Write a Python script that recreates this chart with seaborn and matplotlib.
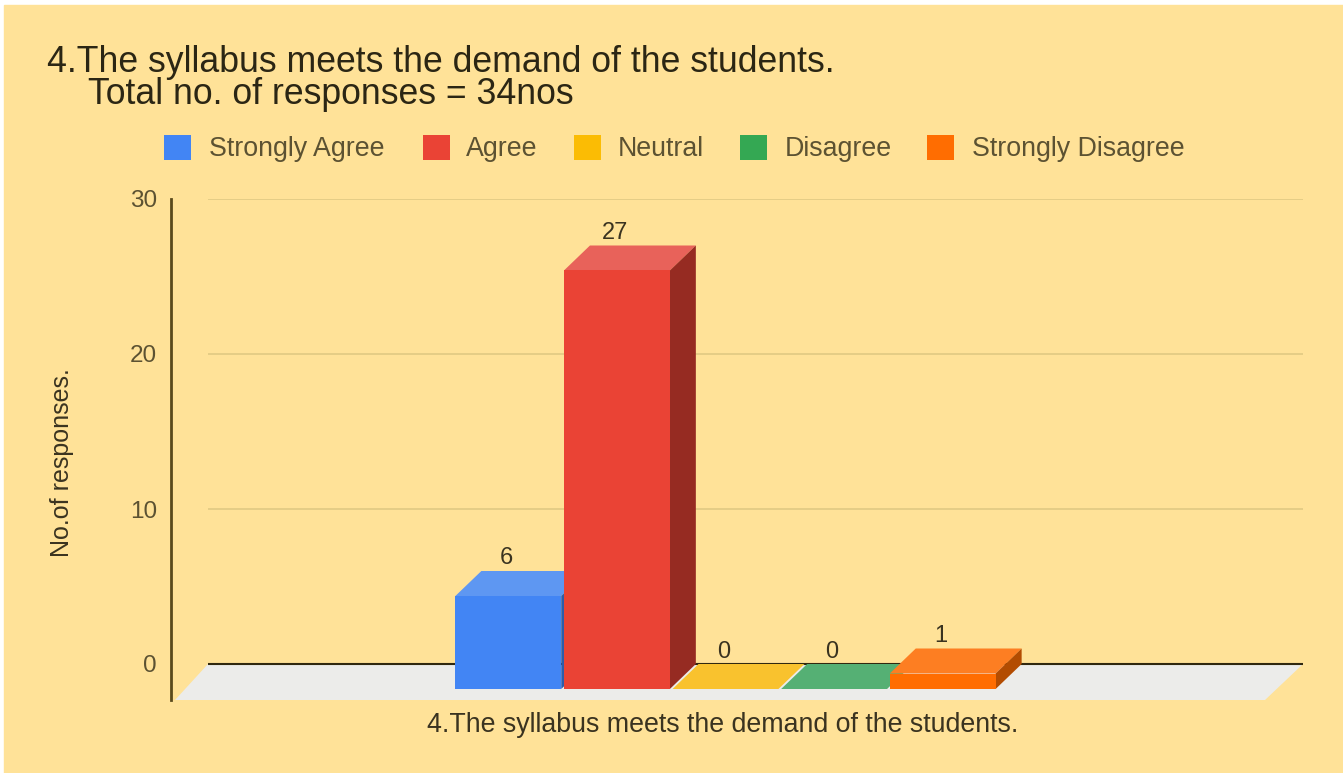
import pandas as pd
import matplotlib
matplotlib.use("Agg")
import matplotlib.pyplot as plt
import seaborn as sns
from matplotlib.patches import Polygon, Rectangle

# =========================
# DATA
# =========================
question = "4.The syllabus meets the demand of the students."
answers = ["Strongly Agree", "Agree", "Neutral", "Disagree", "Strongly Disagree"]
responses = [6, 27, 0, 0, 1]
y_ticks = [0, 10, 20, 30]

front_colors = ["#4285F4", "#EA4335", "#FBBC04", "#34A853", "#FF6D01"]
top_colors = ["#5E97F2", "#E8625A", "#F9C22E", "#55B074", "#FD7E22"]
side_colors = ["#2E5DAB", "#962B22", "#B08403", "#247539", "#B34C01"]

BG = "#FFE298"
TEXT = "#3A3320"
TICK = "#5C5232"
W, H = 1343, 773

df = pd.DataFrame({"question": [question] * len(answers), "answer": answers, "responses": responses})

sns.set_theme(style="white")
plt.rcParams["font.family"] = ["Liberation Sans", "DejaVu Sans"]

fig = plt.figure(figsize=(W / 100, H / 100), dpi=100, facecolor="white")
fig.add_artist(Rectangle((4 / W, 0), 1 - 4 / W, 1 - 5 / H, transform=fig.transFigure, color=BG, zorder=-10))

# axes box in pixels: spine at x=171, y=0 at 664, y=30 at 199
left, right, top, bottom = 171, 1303, 199, 700
ax = fig.add_axes([left / W, 1 - bottom / H, (right - left) / W, (bottom - top) / H])
ax.patch.set_alpha(0)

# =========================
# BARS
# =========================
sns.barplot(data=df, x="question", y="responses", hue="answer", hue_order=answers,
            palette=front_colors, width=1.0, gap=0.025, legend=False, ax=ax, zorder=3,
            linewidth=0, saturation=1)

center = 725.5
px_y = (664 - top) / 30
px_x = 543
ax.set_ylim(-(bottom - 664) / px_y, 30)
ax.set_xlim((left - center) / px_x, (right - center) / px_x)

depth_x = 26 / px_x
depth_y = 25 / px_y
lift = depth_y

# floor and grid
floor_l, floor_r = (175 - center) / px_x, (1265 - center) / px_x
ax.add_patch(Polygon([(floor_l, -(700 - 664) / px_y), (floor_r, -(700 - 664) / px_y),
                      ((1303 - center) / px_x, 0), ((208 - center) / px_x, 0)],
                     closed=True, color="#ECECEA", lw=0, zorder=1))
grid_l = (208 - center) / px_x
ax.hlines([t for t in y_ticks if t > 0], grid_l, (1303 - center) / px_x, color="#E3CB85", lw=1.3, zorder=0.5)
ax.hlines(0, grid_l, (1303 - center) / px_x, color="#30280F", lw=1.5, zorder=1.5)

# pseudo 3D faces built from the bars seaborn drew
bars = [p for p in ax.patches if isinstance(p, Rectangle)]
bars = sorted(bars, key=lambda p: p.get_x())
for i, (bar, val) in enumerate(zip(bars, responses)):
    x0 = bar.get_x()
    x1 = x0 + bar.get_width()
    bar.set_y(-lift)
    bar.set_zorder(3 + i * 0.1 + 0.05)
    yf = val - lift
    ax.add_patch(Polygon([(x0, yf), (x1, yf), (x1 + depth_x, yf + depth_y), (x0 + depth_x, yf + depth_y)],
                         closed=True, color=top_colors[i], lw=0, zorder=3 + i * 0.1))
    ax.add_patch(Polygon([(x1, -lift), (x1 + depth_x, -lift + depth_y), (x1 + depth_x, yf + depth_y), (x1, yf)],
                         closed=True, color=side_colors[i], lw=0, zorder=3 + i * 0.1))
    ax.annotate(str(val), ((x0 + x1) / 2, val), xytext=(-1.5, 9.0), textcoords="offset points",
                ha="center", va="center", fontsize=17, color=TEXT, zorder=6)

# =========================
# AXES
# =========================
ax.set_yticks(y_ticks)
ax.set_xticks([])
ax.tick_params(axis="y", length=0, pad=10, labelsize=17.5, labelcolor=TICK)
for s in ["top", "right", "bottom"]:
    ax.spines[s].set_visible(False)
ax.spines["left"].set_color("#5A4A1C")
ax.spines["left"].set_linewidth(2.0)

ax.set_ylabel("No.of responses.", fontsize=18, color=TEXT)
ax.yaxis.set_label_coords((74 - left) / (right - left), (bottom - 462.5) / (bottom - top))
ax.set_xlabel(question, fontsize=19.3, color=TEXT, labelpad=0)
ax.xaxis.set_label_coords((723 - left) / (right - left), -(725 - bottom) / (bottom - top), )
ax.xaxis.label.set_va("center")

# =========================
# TITLE + LEGEND
# =========================
fig.text(47 / W, 1 - 62 / H, question, fontsize=25.7, color="#2B2614", va="center", ha="left")
fig.text(88 / W, 1 - 95 / H, "Total no. of responses = 34nos", fontsize=25.7, color="#2B2614", va="center", ha="left")

swatch_x = [164, 423, 574, 740, 927]
label_x = [209, 466, 618, 785, 972]
for sx, lx, name, col in zip(swatch_x, label_x, answers, front_colors):
    fig.add_artist(Rectangle((sx / W, 1 - 160 / H), 27 / W, 25 / H, transform=fig.transFigure, color=col, lw=0))
    fig.text(lx / W, 1 - 149 / H, name, fontsize=19.3, color=TICK, va="center", ha="left")

plt.savefig("out.png", dpi=100, facecolor=fig.get_facecolor())
